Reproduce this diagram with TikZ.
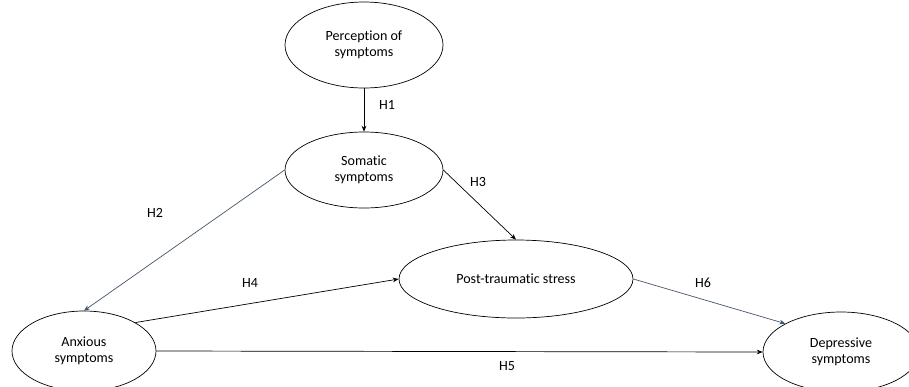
\documentclass[tikz,border=0pt]{standalone}
\usepackage{fontspec}
\setmainfont{Carlito}[Ligatures={NoCommon}]
\usetikzlibrary{shapes.geometric,arrows.meta}
\definecolor{slate}{RGB}{68,84,106}
\tikzset{
  factor/.style={shape=ellipse, draw=black, line width=0.6pt, inner sep=0pt, align=center, font=\fontsize{12}{14}\selectfont},
  hyp/.style={font=\fontsize{12}{14}\selectfont},
  effect/.style={-{Stealth[length=5pt,width=4pt]}, line width=0.6pt}
}
\begin{document}
\begin{tikzpicture}[x=0.03cm, y=-0.03cm]
\useasboundingbox (0,0) rectangle (909,386);
\node[factor, minimum width=158*0.03cm, minimum height=86*0.03cm] (per) at (364,45) {Perception of\\symptoms};
\node[factor, minimum width=158*0.03cm, minimum height=76*0.03cm] (som) at (364,170) {Somatic\\symptoms};
\node[factor, minimum width=234*0.03cm, minimum height=78*0.03cm] (pts) at (516,279) {Post-traumatic stress};
\node[factor, minimum width=144*0.03cm, minimum height=80*0.03cm] (anx) at (84,351) {Anxious\\symptoms};
\node[factor, minimum width=156*0.03cm, minimum height=80*0.03cm] (dep) at (841,352) {Depressive\\symptoms};
\node[hyp] (h1) at (387,105) {H1};
\node[hyp] (h2) at (155,213) {H2};
\node[hyp] (h3) at (478,182) {H3};
\node[hyp] (h4) at (250,283) {H4};
\node[hyp] (h5) at (507,366) {H5};
\node[hyp] (h6) at (703,283) {H6};
\path (per) edge[effect, draw=black] (som);
\path (som.west) edge[effect, draw=slate] (anx.north);
\path (som.east) edge[effect, draw=black] (pts.north);
\path (anx.29) edge[effect, draw=black] (pts.west);
\path (anx.east) edge[effect, draw=black] (dep.west);
\path (pts.east) edge[effect, draw=slate] (dep.153);
\end{tikzpicture}
\end{document}
